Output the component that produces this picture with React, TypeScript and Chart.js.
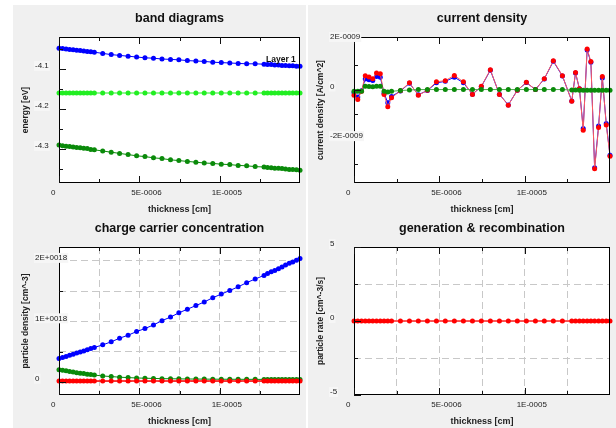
import React, { useEffect, useRef } from "react";
import { Chart, registerables } from "chart.js";

Chart.register(...registerables);

const FONT = "'Liberation Sans', Arial, Helvetica, sans-serif";

// ---------- data ----------
const THICKNESS = [
  0, 2.2e-7, 4.4e-7, 6.6e-7, 8.8e-7, 1.1e-6, 1.32e-6, 1.54e-6, 1.76e-6, 1.98e-6, 2.2e-6,
  2.72e-6, 3.25e-6, 3.77e-6, 4.3e-6, 4.83e-6, 5.35e-6, 5.88e-6, 6.41e-6, 6.94e-6, 7.46e-6,
  7.99e-6, 8.52e-6, 9.04e-6, 9.57e-6, 1.01e-5, 1.063e-5, 1.115e-5, 1.168e-5, 1.221e-5,
  1.276e-5, 1.298e-5, 1.321e-5, 1.343e-5, 1.366e-5, 1.388e-5, 1.41e-5, 1.433e-5, 1.455e-5, 1.478e-5, 1.5e-5,
];

// band diagrams [eV]
const E_CONDUCTION = [
  -4.048, -4.049, -4.05, -4.051, -4.052, -4.053, -4.054, -4.055, -4.056, -4.057, -4.058,
  -4.061, -4.064, -4.066, -4.068, -4.07, -4.072, -4.073, -4.075, -4.076, -4.077,
  -4.079, -4.08, -4.081, -4.083, -4.084, -4.085, -4.086, -4.087, -4.087,
  -4.088, -4.089, -4.089, -4.09, -4.09, -4.091, -4.091, -4.092, -4.092, -4.093, -4.093,
];
const E_FERMI = [
  -4.16, -4.16, -4.16, -4.16, -4.16, -4.16, -4.16, -4.16, -4.16, -4.16, -4.16,
  -4.16, -4.16, -4.16, -4.16, -4.16, -4.16, -4.16, -4.16, -4.16, -4.16,
  -4.16, -4.16, -4.16, -4.16, -4.16, -4.16, -4.16, -4.16, -4.16,
  -4.16, -4.16, -4.16, -4.16, -4.16, -4.16, -4.16, -4.16, -4.16, -4.16, -4.16,
];
const E_VALENCE = [
  -4.29, -4.292, -4.293, -4.294, -4.295, -4.296, -4.297, -4.298, -4.299, -4.301, -4.302,
  -4.305, -4.308, -4.311, -4.314, -4.317, -4.319, -4.322, -4.324, -4.327, -4.329,
  -4.331, -4.333, -4.335, -4.336, -4.338, -4.339, -4.341, -4.342, -4.344,
  -4.345, -4.346, -4.347, -4.348, -4.348, -4.349, -4.35, -4.351, -4.351, -4.352, -4.353,
];

// current density [A/cm^2]
const J_ELECTRON = [
  -0.13e-9, -0.3e-9, -0.05e-9, 0.43e-9, 0.4e-9, 0.37e-9, 0.53e-9, 0.5e-9, -0.15e-9, -0.53e-9, -0.28e-9,
  -0.06e-9, 0.25e-9, -0.21e-9, -0.04e-9, 0.27e-9, 0.33e-9, 0.5e-9, 0.27e-9, -0.19e-9, 0.12e-9,
  0.78e-9, -0.19e-9, -0.62e-9, -0.03e-9, 0.28e-9, 0, 0.43e-9, 1.14e-9, 0.55e-9,
  -0.46e-9, 0.67e-9, 0.03e-9, -1.57e-9, 1.6e-9, 1.1e-9, -3.15e-9, -1.47e-9, 0.47e-9, -1.37e-9, -2.65e-9,
];
const J_HOLE = [
  -0.23e-9, -0.4e-9, -0.07e-9, 0.56e-9, 0.51e-9, 0.44e-9, 0.67e-9, 0.64e-9, -0.2e-9, -0.69e-9, -0.33e-9,
  -0.05e-9, 0.27e-9, -0.23e-9, -0.03e-9, 0.31e-9, 0.36e-9, 0.57e-9, 0.31e-9, -0.2e-9, 0.13e-9,
  0.8e-9, -0.2e-9, -0.63e-9, -0.03e-9, 0.29e-9, 0, 0.44e-9, 1.16e-9, 0.56e-9,
  -0.47e-9, 0.69e-9, 0.03e-9, -1.64e-9, 1.64e-9, 1.13e-9, -3.2e-9, -1.53e-9, 0.53e-9, -1.43e-9, -2.69e-9,
];
const J_TOTAL = [
  -0.07e-9, -0.07e-9, -0.07e-9, 0.13e-9, 0.12e-9, 0.11e-9, 0.13e-9, 0.13e-9, -0.07e-9, -0.1e-9, -0.07e-9,
  -0.04e-9, -0.02e-9, 0, 0, 0, 0, 0, 0, 0, 0,
  0, 0, 0, 0, 0, 0, 0, 0, 0,
  -0.02e-9, -0.02e-9, -0.03e-9, -0.03e-9, -0.03e-9, -0.03e-9, -0.03e-9, -0.03e-9, -0.03e-9, -0.03e-9, -0.03e-9,
];

// charge carrier concentration [cm^-3]
const N_ELECTRON = [
  0.386e18, 0.4e18, 0.418e18, 0.436e18, 0.455e18, 0.474e18, 0.492e18, 0.51e18, 0.529e18, 0.548e18, 0.567e18,
  0.61e18, 0.66e18, 0.72e18, 0.77e18, 0.83e18, 0.88e18, 0.94e18, 1.01e18, 1.07e18, 1.14e18,
  1.2e18, 1.26e18, 1.32e18, 1.39e18, 1.45e18, 1.51e18, 1.57e18, 1.64e18, 1.7e18,
  1.76e18, 1.79e18, 1.82e18, 1.84e18, 1.87e18, 1.9e18, 1.93e18, 1.96e18, 1.98e18, 2.01e18, 2.04e18,
];
const N_HOLE = [
  0.2e18, 0.19e18, 0.18e18, 0.17e18, 0.16e18, 0.15e18, 0.14e18, 0.135e18, 0.125e18, 0.12e18, 0.11e18,
  0.095e18, 0.085e18, 0.075e18, 0.068e18, 0.062e18, 0.058e18, 0.054e18, 0.051e18, 0.049e18, 0.047e18,
  0.045e18, 0.044e18, 0.043e18, 0.042e18, 0.041e18, 0.04e18, 0.04e18, 0.039e18, 0.039e18,
  0.038e18, 0.038e18, 0.037e18, 0.037e18, 0.037e18, 0.036e18, 0.036e18, 0.036e18, 0.035e18, 0.035e18, 0.035e18,
];
const N_DOPING = [
  0.01e18, 0.01e18, 0.01e18, 0.01e18, 0.01e18, 0.01e18, 0.01e18, 0.01e18, 0.01e18, 0.01e18, 0.01e18,
  0.01e18, 0.01e18, 0.01e18, 0.01e18, 0.01e18, 0.01e18, 0.01e18, 0.01e18, 0.01e18, 0.01e18,
  0.01e18, 0.01e18, 0.01e18, 0.01e18, 0.01e18, 0.01e18, 0.01e18, 0.01e18, 0.01e18,
  0.01e18, 0.01e18, 0.01e18, 0.01e18, 0.01e18, 0.01e18, 0.01e18, 0.01e18, 0.01e18, 0.01e18, 0.01e18,
];

// generation & recombination [cm^-3/s]
const G_RATE = [
  0, 0, 0, 0, 0, 0, 0, 0, 0, 0, 0,
  0, 0, 0, 0, 0, 0, 0, 0, 0, 0,
  0, 0, 0, 0, 0, 0, 0, 0, 0,
  0, 0, 0, 0, 0, 0, 0, 0, 0, 0, 0,
];

// ---------- axes / ticks ----------
const X_MAX = 1.5e-5;
const X_MAJOR = [0, 5e-6, 1e-5];
const X_MAJOR_LABELS = ["0", "5E-0006", "1E-0005"];
const X_MINOR = [2.5e-6, 7.5e-6, 1.25e-5];
const X_GRID = [2.5e-6, 5e-6, 7.5e-6, 1e-5, 1.25e-5];

const BAND_Y_MAJOR = [-4.1, -4.2, -4.3];
const BAND_Y_LABELS = ["-4.1", "-4.2", "-4.3"];
const BAND_Y_MINOR = [-4.05, -4.15, -4.25, -4.35];

const CUR_Y_MAJOR = [2e-9, 0, -2e-9];
const CUR_Y_LABELS = ["2E-0009", "0", "-2E-0009"];
const CUR_Y_MINOR = [1e-9, -1e-9, -3e-9];

const CONC_Y_MAJOR = [2e18, 1e18, 0];
const CONC_Y_LABELS = ["2E+0018", "1E+0018", "0"];
const CONC_Y_MINOR = [1.5e18, 0.5e18];
const CONC_Y_GRID = [0, 0.5e18, 1e18, 1.5e18, 2e18];

const GEN_Y_MAJOR = [5, 0, -5];
const GEN_Y_LABELS = ["5", "0", "-5"];
const GEN_Y_MINOR = [2.5, -2.5];
const GEN_Y_GRID = [-2.5, 0, 2.5];

const BLUE = "#0000ff";
const RED = "#ff0000";
const LIME = "#22ee22";
const DKGREEN = "#0a8a0a";
const PANEL_BG = "#f0f0f0";
const GRID_COLOR = "#c8c8c8";

type Series = { data: number[]; color: string; line?: string; width?: number };
type Panel = {
  left: number;
  top: number;
  w: number;
  h: number;
  pad: { left: number; right: number; top: number; bottom: number };
  title: string;
  xTitle: string;
  yTitle: string;
  yMin: number;
  yMax: number;
  yMajor: number[];
  yLabels: string[];
  yMinor: number[];
  grid: boolean;
  yGrid: number[];
  series: Series[];
  note?: { text: string; x: number; y: number };
};

const PANELS: Panel[] = [
  {
    left: 13, top: 5, w: 293, h: 209,
    pad: { left: 46, right: 6, top: 32, bottom: 31 },
    title: "band diagrams", xTitle: "thickness [cm]", yTitle: "energy [eV]",
    yMin: -4.385, yMax: -4.02,
    yMajor: BAND_Y_MAJOR, yLabels: BAND_Y_LABELS, yMinor: BAND_Y_MINOR,
    grid: false, yGrid: [],
    series: [
      { data: E_CONDUCTION, color: BLUE },
      { data: E_FERMI, color: LIME },
      { data: E_VALENCE, color: DKGREEN },
    ],
    note: { text: "Layer 1", x: 1.474e-5, y: -4.0755 },
  },
  {
    left: 308, top: 5, w: 308, h: 209,
    pad: { left: 46, right: 6, top: 32, bottom: 31 },
    title: "current density", xTitle: "thickness [cm]", yTitle: "current density [A/cm^2]",
    yMin: -3.77e-9, yMax: 2.12e-9,
    yMajor: CUR_Y_MAJOR, yLabels: CUR_Y_LABELS, yMinor: CUR_Y_MINOR,
    grid: false, yGrid: [],
    series: [
      { data: J_TOTAL, color: DKGREEN, line: "#4cae4c" },
      { data: J_HOLE, color: RED, line: "#ff5c5c" },
      { data: J_ELECTRON, color: BLUE },
    ],
  },
  {
    left: 13, top: 214, w: 293, h: 214,
    pad: { left: 46, right: 6, top: 33, bottom: 33 },
    title: "charge carrier concentration", xTitle: "thickness [cm]", yTitle: "particle density [cm^-3]",
    yMin: -0.22e18, yMax: 2.23e18,
    yMajor: CONC_Y_MAJOR, yLabels: CONC_Y_LABELS, yMinor: CONC_Y_MINOR,
    grid: true, yGrid: CONC_Y_GRID,
    series: [
      { data: N_DOPING, color: RED, width: 1.5 },
      { data: N_HOLE, color: DKGREEN },
      { data: N_ELECTRON, color: BLUE },
    ],
  },
  {
    left: 308, top: 214, w: 308, h: 214,
    pad: { left: 46, right: 6, top: 33, bottom: 33 },
    title: "generation & recombination", xTitle: "thickness [cm]", yTitle: "particle rate [cm^-3/s]",
    yMin: -5, yMax: 5,
    yMajor: GEN_Y_MAJOR, yLabels: GEN_Y_LABELS, yMinor: GEN_Y_MINOR,
    grid: true, yGrid: GEN_Y_GRID,
    series: [{ data: G_RATE, color: RED, line: "rgba(255,60,60,0.85)", width: 2 }],
  },
];

function decorPlugin(p: Panel) {
  return {
    id: "decor",
    beforeDraw(chart: any) {
      const { ctx, chartArea: a, width, height } = chart;
      ctx.save();
      ctx.fillStyle = PANEL_BG;
      ctx.fillRect(0, 0, width, height);
      ctx.fillStyle = "#ffffff";
      ctx.fillRect(a.left, a.top, a.right - a.left, a.bottom - a.top);
      ctx.restore();
    },
    afterDraw(chart: any) {
      const { ctx, chartArea: a } = chart;
      const xs = chart.scales.x;
      const ys = chart.scales.y;
      ctx.save();
      // frame
      ctx.strokeStyle = "#000";
      ctx.lineWidth = 1;
      ctx.strokeRect(a.left + 0.5, a.top + 0.5, a.right - a.left - 1, a.bottom - a.top - 1);

      // inner tick marks
      ctx.strokeStyle = "#111";
      ctx.beginPath();
      const xTick = (v: number, len: number) => {
        const px = Math.round(xs.getPixelForValue(v)) + 0.5;
        ctx.moveTo(px, a.top);
        ctx.lineTo(px, a.top + len);
        ctx.moveTo(px, a.bottom);
        ctx.lineTo(px, a.bottom - len);
      };
      const yTick = (v: number, len: number) => {
        const py = Math.round(ys.getPixelForValue(v)) + 0.5;
        ctx.moveTo(a.left, py);
        ctx.lineTo(a.left + len, py);
      };
      X_MAJOR.forEach((v) => xTick(v, 7));
      X_MINOR.forEach((v) => xTick(v, 4));
      p.yMajor.forEach((v) => yTick(v, 7));
      p.yMinor.forEach((v) => yTick(v, 4));
      ctx.stroke();

      // x tick labels
      ctx.font = `8px ${FONT}`;
      ctx.fillStyle = "#222";
      ctx.textAlign = "left";
      ctx.textBaseline = "middle";
      X_MAJOR.forEach((v, i) => {
        ctx.fillText(X_MAJOR_LABELS[i], xs.getPixelForValue(v) - 8, a.bottom + 10);
      });

      // y tick labels with light boxes
      p.yMajor.forEach((v, i) => {
        const y = ys.getPixelForValue(v) - 3;
        const txt = p.yLabels[i];
        const w = ctx.measureText(txt).width;
        ctx.fillStyle = "#f6f6f6";
        ctx.fillRect(21, y - 5, w + 2, 10);
        ctx.fillStyle = "#222";
        ctx.fillText(txt, 22, y);
      });

      // note label
      if (p.note) {
        ctx.font = `bold 8.5px ${FONT}`;
        ctx.fillStyle = "#111";
        ctx.textAlign = "right";
        ctx.fillText(p.note.text, xs.getPixelForValue(p.note.x), ys.getPixelForValue(p.note.y));
      }

      // chart title
      const cx = (a.left + a.right) / 2;
      ctx.font = `bold 12.5px ${FONT}`;
      ctx.fillStyle = "#111";
      ctx.textAlign = "center";
      ctx.fillText(p.title, cx, a.top - 18);

      // x axis title
      ctx.font = `bold 9px ${FONT}`;
      ctx.fillStyle = "#222";
      ctx.fillText(p.xTitle, cx, a.bottom + 27);

      // y axis title
      ctx.translate(13, (a.top + a.bottom) / 2);
      ctx.rotate(-Math.PI / 2);
      ctx.font = `bold 8.5px ${FONT}`;
      ctx.fillText(p.yTitle, 0, 0);
      ctx.restore();
    },
  };
}

function ChartPanel({ p }: { p: Panel }) {
  const ref = useRef<HTMLCanvasElement | null>(null);
  useEffect(() => {
    if (!ref.current) return;
    const chart = new Chart(ref.current, {
      type: "line",
      data: {
        datasets: p.series.map((s) => ({
          data: THICKNESS.map((x, i) => ({ x, y: s.data[i] })),
          borderColor: s.line ?? s.color,
          backgroundColor: s.color,
          borderWidth: s.width ?? 1,
          pointRadius: 2.5,
          pointHoverRadius: 2.5,
          pointBackgroundColor: s.color,
          pointBorderColor: s.color,
          pointBorderWidth: 0,
          tension: 0,
          fill: false,
          clip: false as any,
        })),
      },
      options: {
        animation: false,
        responsive: false,
        devicePixelRatio: 1,
        events: [],
        layout: { padding: p.pad },
        plugins: {
          legend: { display: false },
          tooltip: { enabled: false },
          title: { display: false },
        },
        scales: {
          x: {
            type: "linear",
            min: 0,
            max: X_MAX,
            display: true,
            ticks: { display: false },
            grid: { display: p.grid, drawTicks: false, color: GRID_COLOR, lineWidth: 1 },
            border: { display: false, dash: [7, 4] },
            afterBuildTicks: (s: any) => {
              s.ticks = X_GRID.map((value) => ({ value }));
            },
            afterFit: (s: any) => {
              s.height = 0;
            },
          },
          y: {
            type: "linear",
            min: p.yMin,
            max: p.yMax,
            display: true,
            ticks: { display: false },
            grid: { display: p.grid, drawTicks: false, color: GRID_COLOR, lineWidth: 1 },
            border: { display: false, dash: [7, 4] },
            afterBuildTicks: (s: any) => {
              s.ticks = p.yGrid.map((value) => ({ value }));
            },
            afterFit: (s: any) => {
              s.width = 0;
            },
          },
        },
      } as any,
      plugins: [decorPlugin(p)],
    });
    return () => chart.destroy();
  }, [p]);
  return (
    <canvas
      ref={ref}
      width={p.w}
      height={p.h}
      style={{ position: "absolute", left: p.left, top: p.top, width: p.w, height: p.h }}
    />
  );
}

export default function App() {
  return (
    <div
      style={{
        position: "fixed",
        left: 0,
        top: 0,
        width: 616,
        height: 428,
        background: "#ffffff",
        overflow: "hidden",
      }}
    >
      {PANELS.map((p, i) => (
        <ChartPanel key={i} p={p} />
      ))}
    </div>
  );
}
